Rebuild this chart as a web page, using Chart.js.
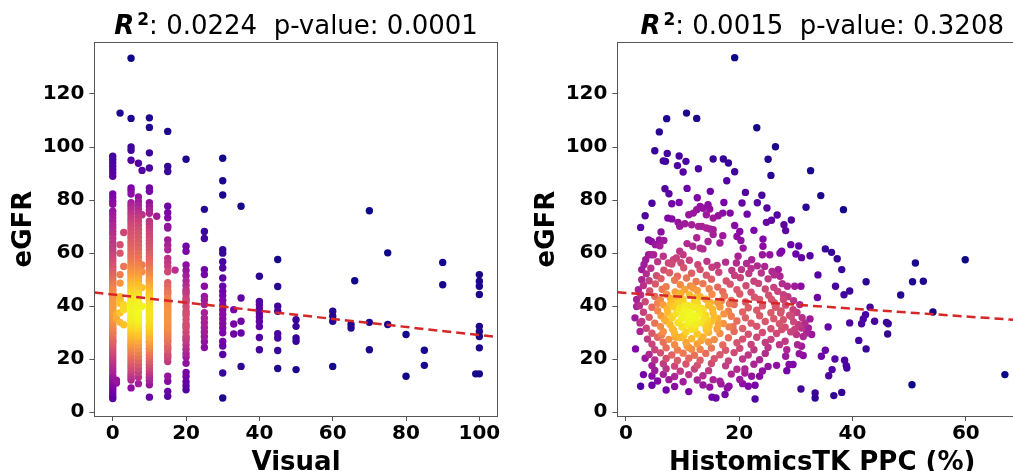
<!DOCTYPE html>
<html>
<head>
<meta charset="utf-8">
<script src="https://cdn.jsdelivr.net/npm/chart.js@4.4.1/dist/chart.umd.min.js"></script>
<style>
  html, body { margin: 0; padding: 0; background: #fff; overflow: hidden; width: 1013px; height: 471px; }
  canvas { position: absolute; left: 0; top: 0; }
</style>
</head>
<body>
<canvas id="visualChart" width="1040" height="480"></canvas>
<canvas id="ppcChart" width="1040" height="480"></canvas>
<script>
const FONT = 'DejaVu Sans';

// ---- data ----
const egfrTicks = [0, 20, 40, 60, 80, 100, 120];
const visualTicks = [0, 20, 40, 60, 80, 100];
const ppcTicks = [0, 20, 40, 60];

const visualStats = ['0.0224', '0.0001']; // R^2, p-value
const ppcStats = ['0.0015', '0.3208'];

// dashed regression lines: [intercept, slope]
const visualFit = [44.4, -0.153];
const ppcFit = [45.0, -0.148];

// left panel: visual score levels and the eGFR values sitting on each one
// (dense stripes are overplotted, so the middle of the 0-20 columns holds extra dots)
const visualLevels = [0, 1, 2, 3, 5, 7, 8, 10, 12, 15, 17, 20, 25, 30, 33, 35, 40, 45, 50, 60, 65, 66, 70, 75, 80, 85, 90, 99, 100];
const visualEgfr = [
  [96.5, 95.3, 94.1, 92.8, 91.5, 90.2, 89, 82.3, 81, 79.6, 78.4, 75.8, 74.5, 73.2, 72, 70.6, 69.5, 68.2, 67, 65.5, 64, 62.6, 61.5, 60.2, 59, 58, 57, 56, 55, 54, 53, 52, 51, 50, 49.2, 48.4, 47.5, 46.6, 45.8, 45, 44.2, 43.4, 42.6, 41.8, 41, 40.3, 39.6, 38.9, 38.2, 37.5, 36.8, 36.1, 35.4, 34.7, 34, 33.3, 32.6, 31.9, 31.2, 30.4, 29.6, 28.8, 28, 27.2, 26.3, 25.4, 24.5, 23.6, 22.6, 21.6, 20.6, 19.6, 18.6, 17.5, 16.3, 15.2, 14, 13, 12, 11, 10, 9, 8, 7, 6, 5.2,
   46.1, 43, 39.9, 37.1, 34.3, 30, 26.8, 41.4],
  [37.2, 35.3, 12.1, 11],
  [112.8, 63.2, 60, 51.9, 48.7, 43.6, 42.5, 41, 37.5, 33.9],
  [67.8, 55, 40.6, 39.6, 38.7, 33],
  [133.5, 110.8, 100, 98.8, 95, 84.6, 83.5, 82.3, 79, 78, 77, 76, 75, 74, 73, 72, 71, 70, 69, 68, 67, 66, 65, 64, 63, 62, 61, 60, 59, 58, 57, 56, 55, 54.2, 53.4, 52.6, 51.8, 51, 50.2, 49.4, 48.6, 47.8, 47, 46.2, 45.4, 44.6, 43.8, 43, 42.3, 41.6, 40.9, 40.2, 39.5, 38.8, 38.1, 37.4, 36.7, 36, 35.3, 34.6, 33.9, 33.2, 32.5, 31.8, 31.1, 30.4, 29.6, 28.8, 28, 27.2, 26.4, 25.6, 24.8, 24, 23, 22, 21, 20, 19, 18, 17, 16, 15, 14, 13, 12.2, 9.2,
   41.2, 38.4, 35.6],
  [93.9, 81.2, 79.5, 78, 76.5, 75, 73.5, 72, 70.5, 69, 67.5, 66, 64.5, 63, 61.5, 60, 58.5, 57, 55.5, 54, 52.5, 51, 49.5, 48, 46.5, 45, 43.5, 42, 40.5, 39, 37.5, 36, 34.5, 33, 31.5, 30, 28.5, 27, 25.5, 24, 22.5, 21, 19.5, 18, 16.5, 15, 13.2, 10.8,
   41.3, 35.3, 29.3, 44.3],
  [91.2, 74.5, 55.5, 53, 47, 40],
  [111, 107.4, 97.8, 92.1, 84.6, 83.3, 79, 77.6, 76.2, 75, 72, 70.8, 69.6, 68.4, 67.2, 66, 64.8, 63.6, 62.4, 61.2, 60, 58.8, 57.6, 56.4, 55.2, 54, 52.8, 51.6, 50.4, 49.2, 48, 46.8, 45.6, 44.4, 43.2, 42, 40.8, 39.6, 38.4, 37.2, 36, 34.8, 33.6, 32.4, 31.2, 30, 28.8, 27.6, 26.4, 25.2, 24, 22.8, 21.6, 20.4, 19.2, 18, 16.8, 15.6, 14.4, 13.2, 12, 10.4, 5.7,
   47.4, 42.6, 37.8, 33, 28.2, 40.2, 35.4, 30.6, 45, 38.9, 32.1, 26.7, 43.8, 36.5, 24.1, 49.7],
  [73.9],
  [105.9, 92.7, 90.8, 77.7, 75.2, 73.3, 70.1, 69.5, 65, 63, 61.3, 58, 56.5, 55, 53, 48.9, 47.5, 46, 44.5, 43, 41.5, 40, 38.5, 37, 35.5, 34, 32.5, 31, 29.5, 28, 26.5, 25, 23.5, 22, 20.5, 19.1, 13.6, 11.7, 7.9, 6,
   41, 37.8, 34.8, 31.8, 28.8, 45.2, 42.3, 39.2, 36.3, 33.2, 30.3, 27.2, 24.3, 21.2],
  [53.6],
  [95.4, 62.6, 60.7, 55.5, 53.5, 51.5, 49.5, 47.8, 46.2, 44.6, 43, 41.4, 39.8, 38.2, 36.6, 35, 33.4, 31.8, 30.2, 28.6, 27, 25.4, 23.8, 22.2, 20.8, 18.5, 15, 13.5, 11.5, 10, 8.5,
   42.2, 37.4, 32.6, 27.8, 45.4],
  [76.5, 68.2, 65.5, 53.8, 51.9, 47.5, 43.7, 42.3, 40.6, 37.5, 35.5, 33.8, 32, 30.3, 28.5, 26.6, 24.4],
  [95.8, 87.3, 81.9, 61.3, 60, 56.8, 54.4, 50.6, 47.5, 45.6, 44, 42.2, 40.4, 38.6, 36.9, 35.2, 33.5, 31.8, 30, 26.7, 25, 21.8, 14.8, 5.4],
  [38.7, 33.3, 29.5],
  [77.7, 43.1, 34.3, 29.9, 17.3],
  [51.3, 41.8, 40.5, 39, 37.4, 35.9, 34.2, 32.3, 28.2, 23.6],
  [57.6, 47.4, 40, 38.1, 29.6, 28, 23.3, 16.5],
  [34.9, 32.4, 28, 26.8, 16.1],
  [38.1, 36.2, 34.3, 17.3],
  [33.1, 31.8],
  [49.6],
  [76, 33.9, 23.6],
  [60.1, 33.1],
  [29.3, 13.6],
  [23.4, 17.7],
  [56.5, 48.1],
  [14.5],
  [51.9, 49.4, 47.5, 44.4, 32.4, 30.5, 28.6, 24.3, 14.5]
];

// right panel: [HistomicsTK PPC %, eGFR]
const ppcPoints = [
  [19.2,133.7],[10.7,112.8],[12.5,110.8],[7.2,110.7],[5.9,105.7],[23.1,107.3],[26.4,100.1],[5.1,98.6],[7.3,97.6],[6.6,94.8],
  [7.0,94.6],[9.4,96.6],[10.6,94.6],[9.1,93],[10.1,90.6],[12.8,91.8],[15.4,95.5],[17.2,95.5],[18.1,94],[19.2,90.7],
  [17.8,87.3],[25.1,95.4],[25.6,89.3],[32.6,91.1],[34.4,81.7],[31.8,77.3],[38.4,76.4],[6.9,84.3],[7.6,82.4],[10.8,84.4],
  [4.6,78.8],[3.4,74.1],[2.6,69.7],[8.1,78.6],[9.4,79.1],[12.6,80.9],[14.9,83.3],[21.1,82.9],[20.5,78.9],[21.4,74.7],
  [23.2,79],[24,81.8],[24.9,77],[26.7,74.4],[24.8,71.6],[25.7,72.4],[22.6,68.6],[27.9,70.7],[28.2,68.5],[29.2,72.5],
  [29.1,63.2],[30.5,62.7],[30,59.7],[31,58.3],[32.5,59],[35.2,61.6],[36.3,60.3],[37.3,57.9],[38.1,53.8],[33.9,51.8],
  [37,47.5],[38.5,44.3],[39.5,45.7],[42.4,49.2],[48.5,44.2],[50.6,49.2],[52.5,49.4],[51.1,56.3],[59.9,57.5],[54.2,37.8],
  [43.1,39.6],[33.8,43.3],[39.5,33.7],[41.6,33.4],[41.9,35.2],[42.3,36.8],[43.9,34.3],[46,33.9],[46.3,33.4],[46.2,29.5],
  [41.1,27.1],[42.4,23.9],[50.5,10.4],[66.9,14.2],[35.7,32.2],[34.5,21.1],[35.2,23.4],[35.8,13.8],[36.4,16.1],[36.9,20.1],
  [36.7,6.3],[38.1,7.5],[38.6,19.6],[38.9,17.6],[39,16.7],[33.4,7.3],[33.4,5.4],[30.9,8.8],[28.4,15.7],[28.8,18],
  [29.5,18],[28.2,21.1],[26.6,17.7],[22.8,5],[22.8,10.2],[21.6,9.8],[22.2,13.6],[20.6,10.8],[21,14.8],[21,16.3],
  [17.9,9.2],[18.2,9.8],[17.5,6.7],[15.2,5.7],[15.9,5.4],[14.8,9.5],[15.4,12.3],[16.8,10.7],[2.6,9.8],[3.1,14.2],
  [1.7,23.9],[3.4,20.4],[1.6,35.6],[2.5,33.7],[2.5,30.5],[1.9,42.5],[1.9,39.9],[2.2,46.2],[2.8,53.8],[2.8,50],
  [3.2,55.7],[3.5,57.5],[4,59.4],[4.5,59.4],[4.9,59.4],[4,65],[4.5,64.4],[5.2,63.2],[5.9,65],[6.2,68],
  [6,62.8],[6.7,64.8],[7.4,73.2],[8.1,72.9],[9.2,71.6],[9.5,70.1],[10.4,71.1],[11.6,70.7],[11.1,74.5],[11.9,75.1],
  [12.5,76.4],[13.1,77.6],[13.6,76.9],[14.5,78.3],[14.8,76.6],[12.8,70.1],[13.4,70.1],[14.2,69.5],[14.8,69.1],[15.4,68.8],
  [14.2,74.5],[15.4,73.2],[16.3,74.1],[17.1,75.1],[17.3,79.1],[18.4,75.1],[19.2,70.4],[20.1,68.2],[19.6,66.3],[20.3,64.8],
  [17.1,66.6],[16.6,63.8],[15.4,67],[14.5,64.4],[13.6,61.6],[13.1,61.9],[12.5,65.8],[11.8,62.6],[10.8,63.6],[9.5,60.7],
  [10.1,59.4],[8.4,57.5],[8.9,58.2],[6.6,58.8],[7.5,56.3],[19.8,58.8],[19.5,56.3],[20.4,53.8],[20.7,61.9],[22.2,57.5],
  [24.1,59.4],[24.2,62.6],[25.4,59.4],[24.2,65.3],[24.5,55],[23.9,52.5],[27.2,60],[27.5,60.7],[26.9,53.8],[27.2,51.3],
  [27.6,48.5],[28.5,47.5],[29.8,47.5],[30.9,47.5],[30.7,40.6],[29.5,38.7],[28.9,36.6],[27.8,44.3],[27.8,42.5],
  [29.8,31.2],[30.5,33],[31,31.8],[31.6,33.7],[32.2,31.8],[32.8,29.3],[31.3,28.6],[31.9,29.9],[30.1,29.3],[32.5,35.2],
  [30.3,25.5],[31,24.9],[30.6,22.1],[31.3,21.4],[28.1,26.8],[28.4,23.6],[27.5,31.2],[27.8,34.9],[27.3,37.4],[26.5,40],[25.7,42.5],
  [5.6,56.8],[8.1,55.9],[9.7,56.4],[11.2,57.3],[12.7,55.6],[14.3,56.9],[16.1,55.4],[17.6,56.6],[21.3,56.1],[23.2,55.2],
  [4.4,54.3],[6.7,53.6],[10.2,54.5],[13.1,53.8],[15.2,54.7],[18.7,53.5],[22.1,54.2],[25.8,53.1],
  [3.6,52.2],[5.4,51.5],[7.7,52.6],[9.1,51.3],[11.6,52.4],[14.2,51.7],[16.4,52.8],[19.2,51.6],[21.7,52.3],[26.2,51.8],
  [4.1,49.6],[6.2,50.4],[8.6,49.8],[10.7,50.6],[12.4,49.3],[15.1,50.2],[17.7,49.5],[20.2,50.7],[22.6,49.4],[25.1,50.3],
  [3.1,47.8],[5.2,48.4],[7.1,47.3],[9.6,48.1],[11.4,47.6],[13.6,48.5],[16.2,47.2],[18.4,48.3],[21.2,47.7],[23.4,48.6],[26.1,47.1],
  [4.2,45.7],[6.4,46.4],[8.7,45.4],[10.4,46.3],[12.6,45.9],[14.7,46.6],[17.1,45.5],[19.6,46.2],[22.1,45.3],[24.6,46.5],[26.8,45.6],
  [2.6,44.2],[5.1,43.7],[7.2,44.4],[9.1,43.5],[11.2,44.3],[13.1,43.6],[15.2,44.5],[17.4,43.8],[20.1,44.6],[22.7,43.4],[25.2,44.1],[28.6,43.6],
  [3.4,41.7],[6.1,42.3],[8.2,41.5],[10.1,42.4],[12.1,41.8],[14.1,42.6],[16.2,41.4],[18.6,42.2],[21.1,41.6],[23.6,42.5],[26.2,41.3],[29.6,42.1],
  [2.4,40.2],[4.6,39.6],[6.6,40.5],[8.4,39.8],[10.6,40.4],[12.4,39.5],[14.6,40.3],[16.6,39.7],[19.1,40.6],[21.6,39.4],[24.1,40.1],[26.4,39.6],[28.2,40.4],
  [3.1,37.7],[5.6,38.3],[7.4,37.5],[9.6,38.2],[11.4,37.6],[13.6,38.4],[15.4,37.4],[18.1,38.1],[20.6,37.8],[23.1,38.5],[25.6,37.5],[27.4,38.2],[30.2,37.6],
  [4.1,35.8],[6.2,36.4],[8.1,35.6],[10.2,36.3],[12.2,35.7],[14.1,36.5],[16.2,35.4],[18.6,36.2],[21.1,35.6],[23.6,36.4],[26.1,35.3],[29.2,36.1],[31.1,35.7],
  [2.8,34.2],[5.1,33.6],[7.1,34.4],[9.2,33.8],[11.1,34.5],[13.2,33.7],[15.1,34.3],[17.2,33.5],[19.6,34.4],[22.1,33.6],[24.6,34.2],[27.1,33.4],[29.6,34.1],
  [3.6,31.7],[6.1,32.3],[8.2,31.5],[10.1,32.4],[12.2,31.8],[14.1,32.5],[16.1,31.4],[18.2,32.2],[20.6,31.6],[23.1,32.4],[25.6,31.5],[28.1,32.1],
  [4.6,29.8],[6.6,30.4],[8.6,29.6],[10.6,30.3],[12.6,29.5],[14.6,30.2],[16.6,29.7],[19.1,30.5],[21.6,29.4],[24.1,30.1],[26.6,29.7],[29.1,30.3],
  [3.8,27.6],[5.6,28.3],[7.6,27.5],[9.6,28.2],[11.6,27.7],[13.6,28.4],[15.6,27.4],[18.1,28.1],[20.6,27.6],[23.1,28.3],[25.6,27.5],
  [4.6,25.7],[6.6,26.4],[8.6,25.5],[10.6,26.3],[12.6,25.8],[14.6,26.5],[17.1,25.4],[19.6,26.2],[22.1,25.6],[24.6,26.3],[27.1,25.5],
  [5.1,23.6],[7.1,24.3],[9.1,23.5],[11.1,24.4],[13.1,23.7],[15.1,24.2],[17.6,23.4],[20.1,24.1],[22.6,23.6],[25.1,24.4],
  [4.1,21.8],[6.1,22.4],[8.1,21.6],[10.1,22.3],[12.1,21.5],[14.1,22.2],[16.6,21.7],[19.1,22.5],[21.6,21.6],[24.6,22.2],
  [5.1,19.7],[7.1,20.3],[9.1,19.5],[11.1,20.4],[13.1,19.6],[15.6,20.2],[18.1,19.4],[20.6,20.1],[23.6,19.8],
  [4.6,17.6],[6.6,18.3],[8.6,17.4],[10.6,18.2],[12.6,17.7],[15.1,18.4],[17.6,17.5],[22.6,18.1],[25.1,17.3],
  [5.1,15.8],[7.1,16.4],[9.6,15.5],[12.1,16.3],[14.6,15.7],[19.6,16.2],[24.1,15.6],
  [4.6,13.7],[6.6,14.3],[8.6,13.5],[11.1,14.2],[13.6,13.8],[18.6,14.4],[23.6,13.6],
  [5.6,11.8],[7.6,12.3],[10.1,11.5],[12.6,12.2],[16.6,11.7],[20.1,12.4],
  [4.6,10.2],[8.6,9.7],[13.6,10.3],[7.1,8.4],[11.1,7.8],
  [9.8,35.2],[11.3,36.8],[12.7,34.1],[10.9,33.2],[8.9,37.3],[13.4,39.1],[11.8,39.8],[9.3,41.2],[7.8,33.1],[14.2,31.1],
  [10.4,38.9],[12.9,37.1],[11.6,31.3],[8.4,30.9],[13.8,35.3],[10.2,28.9],[7.3,38.9],[15.3,38.9],[9.7,44.9],[12.3,43.2],
  [6.8,35.1],[16.3,33.1],[11.9,46.9],[7.9,42.9],[14.9,41.4],[10.8,25.1],[6.3,29.1],[13.3,27.1],[17.3,37.1],[5.6,41.1],
  // overplotted core around (11, 36)
  [8.3,36.2],[10.3,37.6],[11.7,35.4],[12.4,36.3],[9.5,39.3],[12.8,38.8],[10.9,40.3],[12.1,33.1],[9.9,32.2],
  [14.4,34.6],[7.9,40.8],[12.6,41.1],[15.6,35.8],[8.8,28.3],[16.9,42.1],[18.3,40.9],[14.7,32.4],[11.6,23.8],[18.9,32.3]
];

// plasma colormap stops (matplotlib)
const plasmaStops = ['#0d0887', '#4c02a1', '#7e03a8', '#a92395', '#cc4778', '#e56b5d', '#f89540', '#fdc328', '#f0f921'];

function hexRgb(h) {
  return [parseInt(h.slice(1, 3), 16), parseInt(h.slice(3, 5), 16), parseInt(h.slice(5, 7), 16)];
}
function plasma(t) {
  t = Math.max(0, Math.min(1, t));
  const pos = t * (plasmaStops.length - 1);
  const i = Math.min(Math.floor(pos), plasmaStops.length - 2);
  const f = pos - i;
  const a = hexRgb(plasmaStops[i]), b = hexRgb(plasmaStops[i + 1]);
  const c = a.map((v, k) => Math.round(v + (b[k] - v) * f));
  return `rgb(${c[0]},${c[1]},${c[2]})`;
}

// gaussian kde like scipy's (scott bandwidth), evaluated at each point -> colour
function kde(xs, ys) {
  const n = xs.length;
  const mx = xs.reduce((s, v) => s + v, 0) / n;
  const my = ys.reduce((s, v) => s + v, 0) / n;
  let sxx = 0, syy = 0, sxy = 0;
  for (let i = 0; i < n; i++) {
    const dx = xs[i] - mx, dy = ys[i] - my;
    sxx += dx * dx; syy += dy * dy; sxy += dx * dy;
  }
  const f2 = Math.pow(n, -1 / 3) / (n - 1);
  const a = sxx * f2, b = sxy * f2, d = syy * f2;
  const det = a * d - b * b;
  const ia = d / det, ib = -b / det, id = a / det;
  const z = [];
  for (let i = 0; i < n; i++) {
    let s = 0;
    for (let j = 0; j < n; j++) {
      const dx = xs[i] - xs[j], dy = ys[i] - ys[j];
      s += Math.exp(-0.5 * (ia * dx * dx + 2 * ib * dx * dy + id * dy * dy));
    }
    z.push(s);
  }
  return z;
}

// frame all 4 sides + the mathtext-ish title
const frameTitle = {
  id: 'frameTitle',
  afterDraw(chart, args, opts) {
    const { ctx, chartArea: a } = chart;
    ctx.save();
    ctx.strokeStyle = '#555';
    ctx.lineWidth = 1;
    ctx.strokeRect(Math.round(a.left) + 0.5, Math.round(a.top) + 0.5, Math.round(a.right - a.left), Math.round(a.bottom - a.top));

    const parts = [
      { t: 'R', f: `italic bold 26px "${FONT}"`, dy: 0, gap: 3 },
      { t: '2', f: `bold 17px "${FONT}"`, dy: -9, gap: 0 },
      { t: ': ' + opts.r2 + '  p-value: ' + opts.p, f: `26px "${FONT}"`, dy: 0, gap: 0 }
    ];
    let w = 0;
    parts.forEach(p => { ctx.font = p.f; p.w = ctx.measureText(p.t).width; w += p.w + p.gap; });
    let x = (a.left + a.right) / 2 - w / 2;
    ctx.fillStyle = '#000';
    ctx.textBaseline = 'alphabetic';
    ctx.textAlign = 'left';
    parts.forEach(p => {
      ctx.font = p.f;
      ctx.fillText(p.t, x, 34 + p.dy);
      x += p.w + p.gap;
    });
    ctx.restore();
  }
};

function makePanel(id, xs, ys, fit, stats, xTitle, xTicks, xMin, xMax, padLeft, padRight) {
  const z = kde(xs, ys);
  const zmin = Math.min(...z), zmax = Math.max(...z);
  const idx = z.map((v, i) => i).sort((p, q) => z[p] - z[q]); // densest on top
  const pts = idx.map(i => ({ x: xs[i], y: ys[i] }));
  const cols = idx.map(i => plasma((z[i] - zmin) / (zmax - zmin)));

  const tickFont = { family: FONT, size: 20, weight: 'bold' };
  const titleFont = { family: FONT, size: 26, weight: 'bold' };

  return new Chart(document.getElementById(id), {
    type: 'scatter',
    data: {
      datasets: [
        {
          type: 'line',
          data: [{ x: xMin, y: fit[0] + fit[1] * xMin }, { x: xMax, y: fit[0] + fit[1] * xMax }],
          borderColor: '#d62728',
          borderWidth: 2.5,
          borderDash: [9, 5],
          pointRadius: 0,
          fill: false,
          order: 0
        },
        {
          data: pts,
          pointBackgroundColor: cols,
          pointBorderWidth: 0,
          pointRadius: 3.7,
          order: 1
        }
      ]
    },
    options: {
      responsive: false,
      animation: false,
      devicePixelRatio: 1,
      events: [],
      layout: { padding: { left: padLeft, right: padRight, top: 42, bottom: 0 } },
      plugins: {
        legend: { display: false },
        tooltip: { enabled: false },
        frameTitle: { r2: stats[0], p: stats[1] }
      },
      scales: {
        x: {
          type: 'linear',
          min: xMin,
          max: xMax,
          afterBuildTicks: s => { s.ticks = xTicks.map(v => ({ value: v })); },
          afterFit: s => { s.height = 64; },
          ticks: { font: tickFont, color: '#000', padding: 1, maxRotation: 0 },
          grid: { drawOnChartArea: false, drawTicks: true, tickLength: 5, tickColor: '#555' },
          border: { display: false },
          title: { display: true, text: xTitle, font: titleFont, color: '#000', padding: { top: 0, bottom: 1 } }
        },
        y: {
          type: 'linear',
          min: -1.4,
          max: 139.6,
          afterBuildTicks: s => { s.ticks = egfrTicks.map(v => ({ value: v })); },
          afterFit: s => { s.width = 94.4; },
          ticks: { font: tickFont, color: '#000', padding: 5 },
          grid: { drawOnChartArea: false, drawTicks: true, tickLength: 5, tickColor: '#555' },
          border: { display: false },
          title: { display: true, text: 'eGFR', font: titleFont, color: '#000', padding: { top: 8.4, bottom: 0 } }
        }
      }
    },
    plugins: [frameTitle]
  });
}

// flatten the visual columns into x/y
const visX = [], visY = [];
visualLevels.forEach((lv, k) => visualEgfr[k].forEach(v => { visX.push(lv); visY.push(v); }));

makePanel('visualChart', visX, visY, visualFit, visualStats, 'Visual', visualTicks, -5, 105, 0, 542.3);
makePanel('ppcChart', ppcPoints.map(p => p[0]), ppcPoints.map(p => p[1]), ppcFit, ppcStats,
  'HistomicsTK PPC (%)', ppcTicks, -1.5, 70.8, 523, 13);
</script>
</body>
</html>
